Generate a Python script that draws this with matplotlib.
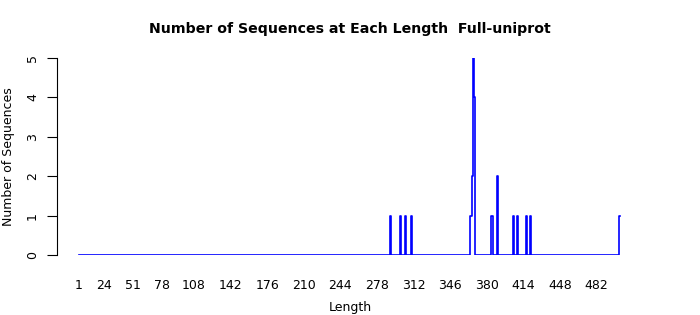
import matplotlib
matplotlib.use("Agg")
import matplotlib.pyplot as plt
import numpy as np

# sequence lengths that occur and how many sequences have that length
lengths = [291, 300, 305, 310, 365, 366, 367, 368, 369, 385, 390, 405, 409, 417, 421, 504]
counts = [1, 1, 1, 1, 1, 1, 2, 5, 4, 1, 2, 1, 1, 1, 1, 1]
tick_labels = [1, 24, 51, 78, 108, 142, 176, 210, 244, 278, 312, 346, 380, 414, 448, 482]
y_ticks = [0, 1, 2, 3, 4, 5]

# full range of lengths with zeros where nothing was seen
x = np.arange(1, max(lengths) + 1)
y = np.zeros(len(x))
for l, c in zip(lengths, counts):
    y[l - 1] = c

fig = plt.figure(figsize=(7, 3.15), dpi=100)
ax = fig.add_axes([57 / 700, 60 / 315, 583 / 700, 197 / 315])

ax.step(x, y, where='mid', color='#0000ff', lw=1.2)

ax.set_xlim(-19.45, 522.6)
ax.set_ylim(0, 5)

# R-like axes: only the left spine, x axis without line and ticks
for s in ['top', 'right', 'bottom']:
    ax.spines[s].set_visible(False)
ax.spines['left'].set_bounds(0, 5)
ax.spines['left'].set_linewidth(0.8)

ax.set_xticks(tick_labels)
ax.set_xticklabels([str(t) for t in tick_labels], fontsize=9)
ax.tick_params(axis='x', length=0, pad=17)
ax.set_yticks(y_ticks)
ax.set_yticklabels([str(t) for t in y_ticks], fontsize=9, rotation=90, va='center')
ax.tick_params(axis='y', length=7, width=0.8, pad=6)

fig.text(0.5, 1 - 29.5 / 315, "Number of Sequences at Each Length  Full-uniprot",
         ha='center', va='center', fontsize=10.2, fontweight='bold')
fig.text(350 / 700, 1 - 307 / 315, "Length", ha='center', va='center', fontsize=9)
fig.text(9 / 700, 1 - 157 / 315, "Number of Sequences", ha='center', va='center',
         rotation=90, fontsize=9)

fig.savefig("out.png", dpi=100)
